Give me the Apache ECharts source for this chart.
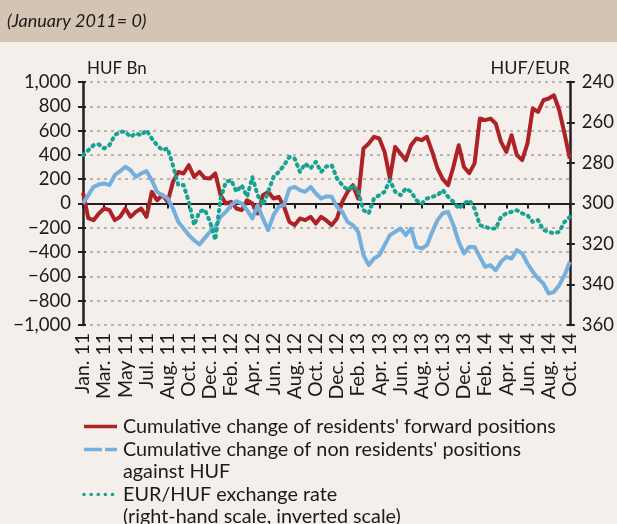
<!DOCTYPE html>
<html><head><meta charset="utf-8">
<script src="https://cdn.jsdelivr.net/npm/echarts@6/dist/echarts.min.js"></script>
<style>html,body{margin:0;padding:0;background:#f5efeb}#c{width:617px;height:524px}</style>
</head><body><div id="c"></div>
<script>
const tickLabels = ['Jan. 11','Mar. 11','May 11','Jul. 11','Aug. 11','Oct. 11','Dec. 11','Feb. 12','Apr. 12','Jun. 12','Aug. 12','Oct. 12','Dec. 12','Feb. 13','Apr. 13','Jun. 13','Aug. 13','Oct. 13','Dec. 13','Feb. 14','Apr. 14','Jun. 14','Aug. 14','Oct. 14'];
const pointsPerLabel = 4;

const residents = [90,-120,-137,-82,-41,-55,-137,-110,-41,-110,-69,-41,-110,96,27,69,14,178,260,247,315,219,260,210,
  206,247,69,0,14,-41,-55,27,0,-82,69,96,41,55,-27,-151,-178,-123,-137,-110,-165,-110,-140,
  -178,-123,14,96,151,41,453,494,549,535,425,206,466,411,357,480,535,521,549,425,288,200,
  151,302,480,300,250,330,700,686,699,658,507,425,562,398,357,494,782,754,850,864,891,768,576,370];

const nonResidents = [0,69,137,156,165,151,233,266,302,274,219,247,266,192,96,69,41,-41,-151,-206,-260,-302,-337,-285,
  -233,-192,-110,-69,-14,19,0,-55,-123,-14,-123,-219,-96,-27,-14,123,137,110,96,137,82,41,60,
  55,-27,-69,-151,-178,-233,-425,-507,-453,-425,-343,-260,-233,-206,-260,-206,-357,-370,-343,-233,-137,-80,
  -69,-178,-315,-411,-357,-357,-439,-521,-507,-549,-480,-439,-453,-384,-411,-494,-562,-617,-658,-741,-727,-672,-590,-480];

const eurHuf = [276.1,273.7,271.2,270.8,272.8,271.2,266.3,264.6,264.6,267.1,265.4,266.3,263.8,267.9,271.2,273.7,272.8,281.1,290.9,290.9,299.2,310.7,304.1,303,
  309,318,297.6,289.3,288.5,294.2,290.9,296.7,286.9,295.9,300.8,294.2,286.9,284.4,281.1,277,277.8,284.4,280.3,282.7,279.4,284.4,281.7,
  281.1,287.6,290.9,293.4,290.9,294.2,303.3,304.9,297.5,295.9,294.2,288.5,294.2,295.9,292.6,294.2,298.4,300,297.5,296.7,295.9,293.4,
  296.7,299.2,302.5,300,298.4,302.5,310.7,311.5,312.4,312.4,306.6,304.9,304.1,303.3,304.9,305.8,309.1,308.2,313.1,314,314.8,314,309.1,306.6];

const seriesNames = ["Cumulative change of residents' forward positions",
  "Cumulative change of non residents' positions against HUF",
  "EUR/HUF exchange rate (right-hand scale, inverted scale)"];
const legendLines = [["Cumulative change of residents' forward positions"],
  ["Cumulative change of non residents' positions", "against HUF"],
  ["EUR/HUF exchange rate", "(right-hand scale, inverted scale)"]];
const titleText = '(January 2011= 0)';
const leftAxisName = 'HUF Bn';
const rightAxisName = 'HUF/EUR';

const categories = residents.map((_, i) => String(i));

const FONT = 'Lato';
const RED = '#ad2226', BLUE = '#74afdd', TEAL = '#17a392';
const DARK = '#231f20', TXT = '#1b1b1b';
const plotDashes = [null, null, [1.5, 5]];
const legendDashes = [null, [18, 3], [0.1, 7]];
const colors = [RED, BLUE, TEAL];

const fmtLeft = v => (v < 0 ? '\u2212' : '') + Math.abs(v).toLocaleString('en-US');

const chart = echarts.init(document.getElementById('c'), null, {renderer: 'canvas'});

const legendGraphics = [];
const rowTops = [415, 438, 483];
legendLines.forEach((lines, k) => {
  const cy = rowTops[k] + 11.5;
  legendGraphics.push({
    type: 'line', shape: {x1: 84, y1: cy, x2: 117, y2: cy},
    style: {stroke: colors[k], lineWidth: 3.5, lineDash: legendDashes[k] || null, lineCap: k === 2 ? 'round' : 'butt'}
  });
  legendGraphics.push({
    type: 'text', x: 123, y: rowTops[k],
    style: {text: lines.join('\n'), fill: TXT, font: '19.8px ' + FONT, lineHeight: 22.5, verticalAlign: 'top'}
  });
});

const option = {
  animation: false,
  backgroundColor: '#f5efeb',
  textStyle: {fontFamily: FONT},
  grid: {left: 83, right: 46, top: 82, bottom: 199, containLabel: false},
  graphic: [
    {type: 'rect', z: -10, shape: {x: 0, y: 0, width: 617, height: 42}, style: {fill: '#d4c4b4'}},
    {type: 'text', x: 7, y: 21, style: {text: titleText, fill: TXT, font: 'italic 18px ' + FONT, verticalAlign: 'middle'}},
    ...legendGraphics
  ],
  xAxis: [
    {type: 'category', data: categories, boundaryGap: false, position: 'bottom',
     axisLine: {show: false, onZero: false}, axisTick: {show: false},
     axisLabel: {rotate: 90, interval: 0, margin: 8, color: TXT, fontSize: 19.5, fontFamily: FONT,
       formatter: (v, i) => (i % pointsPerLabel === 0 ? tickLabels[i / pointsPerLabel] : '')},
     splitLine: {show: false}},
    {type: 'category', data: categories, boundaryGap: false, position: 'bottom',
     axisLine: {show: true, onZero: true, onZeroAxisIndex: 0, lineStyle: {color: DARK, width: 2}},
     axisTick: {show: true, interval: pointsPerLabel - 1, length: 5, lineStyle: {color: DARK, width: 2}},
     axisLabel: {show: false}, splitLine: {show: false}}
  ],
  yAxis: [
    {type: 'value', position: 'left', min: -1000, max: 1000, interval: 200,
     name: leftAxisName, nameLocation: 'end', nameGap: 5,
     nameTextStyle: {color: TXT, fontSize: 17, fontFamily: FONT, align: 'left', verticalAlign: 'bottom', padding: [0, 0, 0, 4]},
     axisLine: {show: true, onZero: false, lineStyle: {color: DARK, width: 2.5}},
     axisTick: {show: true, length: 5, lineStyle: {color: DARK, width: 2}},
     axisLabel: {color: TXT, fontSize: 18.5, fontFamily: FONT, margin: 12, formatter: fmtLeft},
     splitLine: {show: true, lineStyle: {color: '#a3a3a3', width: 1.5, type: [3, 4]}}},
    {type: 'value', position: 'right', min: 240, max: 360, interval: 20, inverse: true,
     name: rightAxisName, nameLocation: 'start', nameGap: 5,
     nameTextStyle: {color: TXT, fontSize: 18, fontFamily: FONT, align: 'right', verticalAlign: 'bottom'},
     axisLine: {show: true, onZero: false, lineStyle: {color: DARK, width: 2.5}},
     axisTick: {show: true, length: 5, lineStyle: {color: DARK, width: 2}},
     axisLabel: {color: TXT, fontSize: 18.5, fontFamily: FONT, margin: 12},
     splitLine: {show: false}},
    {type: 'value', position: 'left', min: -1000, max: 1000, interval: 200,
     axisLine: {show: false, onZero: false}, axisLabel: {show: false}, splitLine: {show: false},
     axisTick: {show: true, inside: true, length: 3, lineStyle: {color: DARK, width: 2}}},
    {type: 'value', position: 'right', min: 240, max: 360, interval: 20, inverse: true,
     axisLine: {show: false, onZero: false}, axisLabel: {show: false}, splitLine: {show: false},
     axisTick: {show: true, inside: true, length: 3, lineStyle: {color: DARK, width: 2}}}
  ],
  series: [
    {name: seriesNames[0], type: 'line', xAxisIndex: 0, yAxisIndex: 0, data: residents, symbol: 'none',
     lineStyle: {color: RED, width: 4, join: 'round'}, z: 3},
    {name: seriesNames[1], type: 'line', xAxisIndex: 0, yAxisIndex: 0, data: nonResidents, symbol: 'none',
     lineStyle: {color: BLUE, width: 4, join: 'round'}, z: 4},
    {name: seriesNames[2], type: 'line', xAxisIndex: 0, yAxisIndex: 1, data: eurHuf, symbol: 'none',
     lineStyle: {color: TEAL, width: 4, type: plotDashes[2], cap: 'round', join: 'round'}, z: 5}
  ]
};
chart.setOption(option);
</script></body></html>
